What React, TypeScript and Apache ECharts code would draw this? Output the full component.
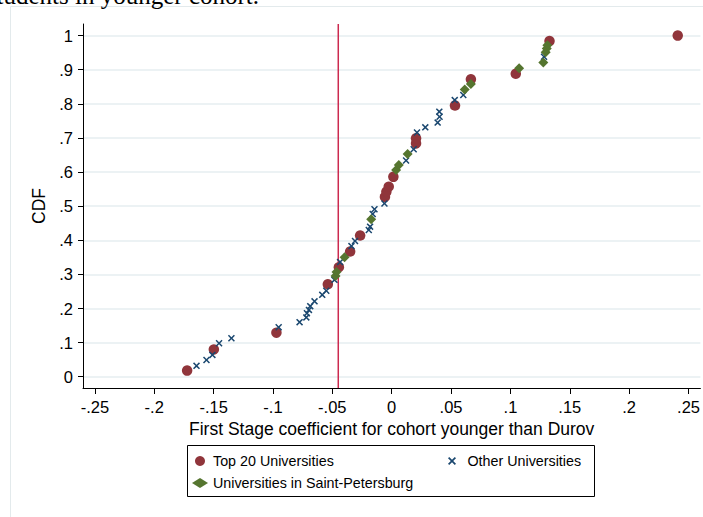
import React, { useEffect, useRef } from "react";
import * as echarts from "echarts";

// Tick values and labels
const xTickValues = [-0.25, -0.2, -0.15, -0.1, -0.05, 0, 0.05, 0.1, 0.15, 0.2, 0.25];
const xTickLabels = ["-.25", "-.2", "-.15", "-.1", "-.05", "0", ".05", ".1", ".15", ".2", ".25"];
const yTickValues = [0, 0.1, 0.2, 0.3, 0.4, 0.5, 0.6, 0.7, 0.8, 0.9, 1];
const yTickLabels = ["0", ".1", ".2", ".3", ".4", ".5", ".6", ".7", ".8", ".9", "1"];

// Axis ranges
const xMin = -0.26;
const xMax = 0.26;
const yMin = -0.033;
const yMax = 1.034;

// Reference line (vertical)
const refLineX = -0.045;

// [coefficient, CDF]
const top20: number[][] = [
  [-0.1723, 0.018], [-0.1498, 0.080], [-0.0971, 0.129], [-0.0538, 0.271], [-0.0445, 0.321],
  [-0.035, 0.367], [-0.0266, 0.414], [-0.0057, 0.527], [-0.0045, 0.542], [-0.0025, 0.557],
  [0.0014, 0.586], [0.0205, 0.684], [0.0205, 0.699], [0.0533, 0.795], [0.0667, 0.872],
  [0.1045, 0.888], [0.1329, 0.984], [0.2409, 1.0],
];
const otherUnis: number[][] = [
  [-0.1644, 0.032], [-0.156, 0.049], [-0.151, 0.064], [-0.1454, 0.098], [-0.135, 0.113],
  [-0.0952, 0.145], [-0.0776, 0.160], [-0.0719, 0.174], [-0.0714, 0.186], [-0.0697, 0.196],
  [-0.0686, 0.207], [-0.065, 0.221], [-0.0585, 0.240], [-0.0551, 0.252], [-0.0482, 0.284],
  [-0.0435, 0.336], [-0.0339, 0.383], [-0.0309, 0.398], [-0.0193, 0.430], [-0.0182, 0.440],
  [-0.016, 0.477], [-0.0145, 0.491], [-0.0061, 0.508], [0.0121, 0.634], [0.0185, 0.667],
  [0.0213, 0.716], [0.0283, 0.731], [0.0387, 0.745], [0.0403, 0.762], [0.0401, 0.777],
  [0.0531, 0.811], [0.0603, 0.826], [0.1283, 0.938],
];
const stPetersburg: number[][] = [
  [-0.0473, 0.295], [-0.0465, 0.307], [-0.0397, 0.350], [-0.0173, 0.462], [0.0037, 0.606],
  [0.006, 0.621], [0.0134, 0.653], [0.0615, 0.842], [0.0667, 0.858], [0.1073, 0.904],
  [0.1277, 0.921], [0.1297, 0.951], [0.1306, 0.962], [0.1311, 0.972],
];

const seriesNames = ["Top 20 Universities", "Other Universities", "Universities in Saint-Petersburg"];

const FONT = "'Liberation Sans', Arial, Helvetica, sans-serif";
const X_SYMBOL =
  "path://M0,1.5 L1.5,0 L5,3.5 L8.5,0 L10,1.5 L6.5,5 L10,8.5 L8.5,10 L5,6.5 L1.5,10 L0,8.5 L3.5,5 Z";

function labelFor(values: number[], labels: string[], v: number): string {
  for (let i = 0; i < values.length; i++) {
    if (Math.abs(values[i] - v) < 1e-6) return labels[i];
  }
  return "";
}

export default function App() {
  const ref = useRef<HTMLDivElement>(null);
  useEffect(() => {
    if (!ref.current) return;
    const chart = echarts.init(ref.current, undefined, { renderer: "svg" });
    chart.setOption({
      animation: false,
      backgroundColor: "#ffffff",
      grid: { left: 83, top: 24, width: 619, height: 364 },
      xAxis: {
        type: "value",
        min: xMin,
        max: xMax,
        axisLine: { show: true, onZero: false, lineStyle: { color: "#000", width: 1 } },
        axisTick: { show: true, length: 6, customValues: xTickValues, lineStyle: { color: "#000" } },
        axisLabel: {
          customValues: xTickValues,
          formatter: (v: number) => labelFor(xTickValues, xTickLabels, v),
          fontSize: 16.5,
          color: "#000",
          fontFamily: FONT,
          margin: 10,
        },
        splitLine: { show: false },
        name: "First Stage coefficient for cohort younger than Durov",
        nameLocation: "middle",
        nameGap: 29,
        nameTextStyle: { fontSize: 17.5, color: "#000", fontFamily: FONT },
      },
      yAxis: {
        type: "value",
        min: yMin,
        max: yMax,
        axisLine: { show: true, onZero: false, lineStyle: { color: "#000", width: 1 } },
        axisTick: { show: true, length: 5, customValues: yTickValues, lineStyle: { color: "#000" } },
        axisLabel: {
          customValues: yTickValues,
          formatter: (v: number) => labelFor(yTickValues, yTickLabels, v),
          fontSize: 16.5,
          color: "#000",
          fontFamily: FONT,
          margin: 10,
        },
        splitLine: { show: true, lineStyle: { color: "#e6eef0", width: 1.5 } },
        name: "CDF",
        nameLocation: "middle",
        nameGap: 34,
        nameTextStyle: { fontSize: 17.5, color: "#000", fontFamily: FONT },
      },
      legend: [
        {
          data: [seriesNames[0], seriesNames[2]],
          orient: "vertical",
          left: 192,
          top: 454,
          padding: 0,
          itemWidth: 16,
          itemHeight: 10,
          itemGap: 8,
          textStyle: { fontSize: 14.3, color: "#000", fontFamily: FONT },
        },
        {
          data: [seriesNames[1]],
          left: 448,
          top: 454,
          padding: 0,
          itemWidth: 21,
          itemHeight: 8,
          textStyle: { fontSize: 14.3, color: "#000", fontFamily: FONT },
        },
      ],
      graphic: [
        {
          type: "rect",
          shape: { x: 10.5, y: 6.5, width: 720, height: 540 },
          style: { fill: "none", stroke: "#e3eaec", lineWidth: 1 },
          silent: true,
        },
        {
          type: "rect",
          shape: { x: 187.5, y: 445.5, width: 407, height: 51 },
          style: { fill: "none", stroke: "#000", lineWidth: 1 },
          silent: true,
        },
        {
          type: "text",
          x: 259,
          y: 8,
          style: {
            text: "students in younger cohort.",
            fontSize: 25,
            fontFamily: "'Liberation Serif', 'DejaVu Serif', serif",
            fill: "#000",
            textAlign: "right",
            textVerticalAlign: "bottom",
          },
          silent: true,
        },
      ],
      series: [
        {
          name: "refline",
          type: "line",
          data: [[refLineX, yMin], [refLineX, yMax]],
          symbol: "none",
          silent: true,
          lineStyle: { color: "#cc2a4f", width: 1.5 },
          z: 1,
        },
        {
          name: seriesNames[0],
          type: "scatter",
          data: top20,
          symbol: "circle",
          symbolSize: 10.5,
          itemStyle: { color: "#90353b", opacity: 1 },
          z: 2,
        },
        {
          name: seriesNames[1],
          type: "scatter",
          data: otherUnis,
          symbol: X_SYMBOL,
          symbolSize: 7,
          itemStyle: { color: "#1a476f", opacity: 1 },
          z: 3,
        },
        {
          name: seriesNames[2],
          type: "scatter",
          data: stPetersburg,
          symbol: "diamond",
          symbolSize: 10,
          itemStyle: { color: "#55752f", opacity: 1 },
          z: 4,
        },
      ],
    });
    return () => chart.dispose();
  }, []);
  return (
    <div
      ref={ref}
      style={{ position: "absolute", left: 0, top: 0, width: 703, height: 517 }}
    />
  );
}
